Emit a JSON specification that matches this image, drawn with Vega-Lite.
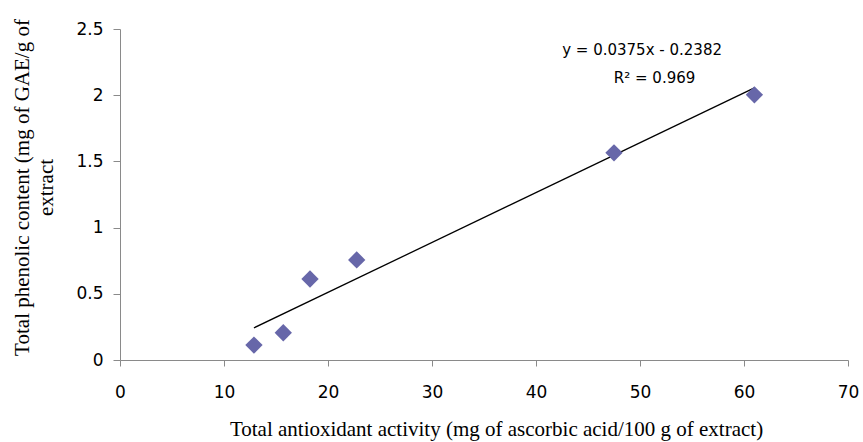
{
  "$schema": "https://vega.github.io/schema/vega-lite/v6.json",
  "autosize": "none",
  "padding": {"left": 120, "top": 29, "right": 15, "bottom": 82},
  "width": 728,
  "height": 331,
  "background": "white",
  "config": {"view": {"stroke": null}},
  "datasets": {
    "points": [
      {"activity": 12.88, "phenolic": 0.113},
      {"activity": 15.7, "phenolic": 0.206},
      {"activity": 18.27, "phenolic": 0.612},
      {"activity": 22.76, "phenolic": 0.756},
      {"activity": 47.5, "phenolic": 1.565},
      {"activity": 61.0, "phenolic": 2.003}
    ],
    "labels": [
      {"activity": 50.2, "phenolic": 2.305, "label": "y = 0.0375x - 0.2382"},
      {"activity": 51.4, "phenolic": 2.091, "label": "R² = 0.969"}
    ]
  },
  "layer": [
    {
      "data": {"name": "points"},
      "transform": [
        {"regression": "phenolic", "on": "activity", "extent": [12.88, 61.0]}
      ],
      "mark": {"type": "line", "color": "black", "strokeWidth": 1.3},
      "encoding": {
        "x": {
          "field": "activity",
          "type": "quantitative",
          "scale": {"domain": [0, 70], "nice": false, "zero": false},
          "axis": {
            "values": [0, 10, 20, 30, 40, 50, 60, 70],
            "format": "~g",
            "grid": false,
            "labelFlush": false,
            "domainColor": "#8a8a8a",
            "tickColor": "#8a8a8a",
            "tickSize": 6,
            "labelFont": "DejaVu Sans",
            "labelFontSize": 17,
            "labelColor": "black",
            "labelPadding": 18,
            "title": "Total antioxidant activity (mg of ascorbic acid/100 g of extract)",
            "titleFont": "Liberation Serif",
            "titleFontSize": 21,
            "titleFontWeight": "normal",
            "titleColor": "black",
            "titleBaseline": "alphabetic",
            "titleAlign": "center",
            "titleX": 376,
            "titleY": 75
          }
        },
        "y": {
          "field": "phenolic",
          "type": "quantitative",
          "scale": {"domain": [0, 2.5], "nice": false},
          "axis": {
            "values": [0, 0.5, 1, 1.5, 2, 2.5],
            "format": "~g",
            "grid": false,
            "labelFlush": false,
            "domainColor": "#8a8a8a",
            "tickColor": "#8a8a8a",
            "tickSize": 7,
            "labelFont": "DejaVu Sans",
            "labelFontSize": 17,
            "labelColor": "black",
            "labelPadding": 10,
            "title": ["Total phenolic content (mg of GAE/g of", "extract"],
            "titleFont": "Liberation Serif",
            "titleFontSize": 21,
            "titleFontWeight": "normal",
            "titleColor": "black",
            "titleLineHeight": 24,
            "titleBaseline": "alphabetic",
            "titleAlign": "center",
            "titleAngle": -90,
            "titleX": -92,
            "titleY": 158
          }
        }
      }
    },
    {
      "data": {"name": "points"},
      "mark": {"type": "point", "shape": "diamond", "filled": true, "size": 300, "color": "#6767A9", "opacity": 1},
      "encoding": {
        "x": {"field": "activity", "type": "quantitative"},
        "y": {"field": "phenolic", "type": "quantitative"}
      }
    },
    {
      "data": {"name": "labels"},
      "mark": {"type": "text", "font": "DejaVu Sans", "fontSize": 15, "color": "black", "align": "center", "baseline": "alphabetic"},
      "encoding": {
        "x": {"field": "activity", "type": "quantitative"},
        "y": {"field": "phenolic", "type": "quantitative"},
        "text": {"field": "label"}
      }
    }
  ]
}
